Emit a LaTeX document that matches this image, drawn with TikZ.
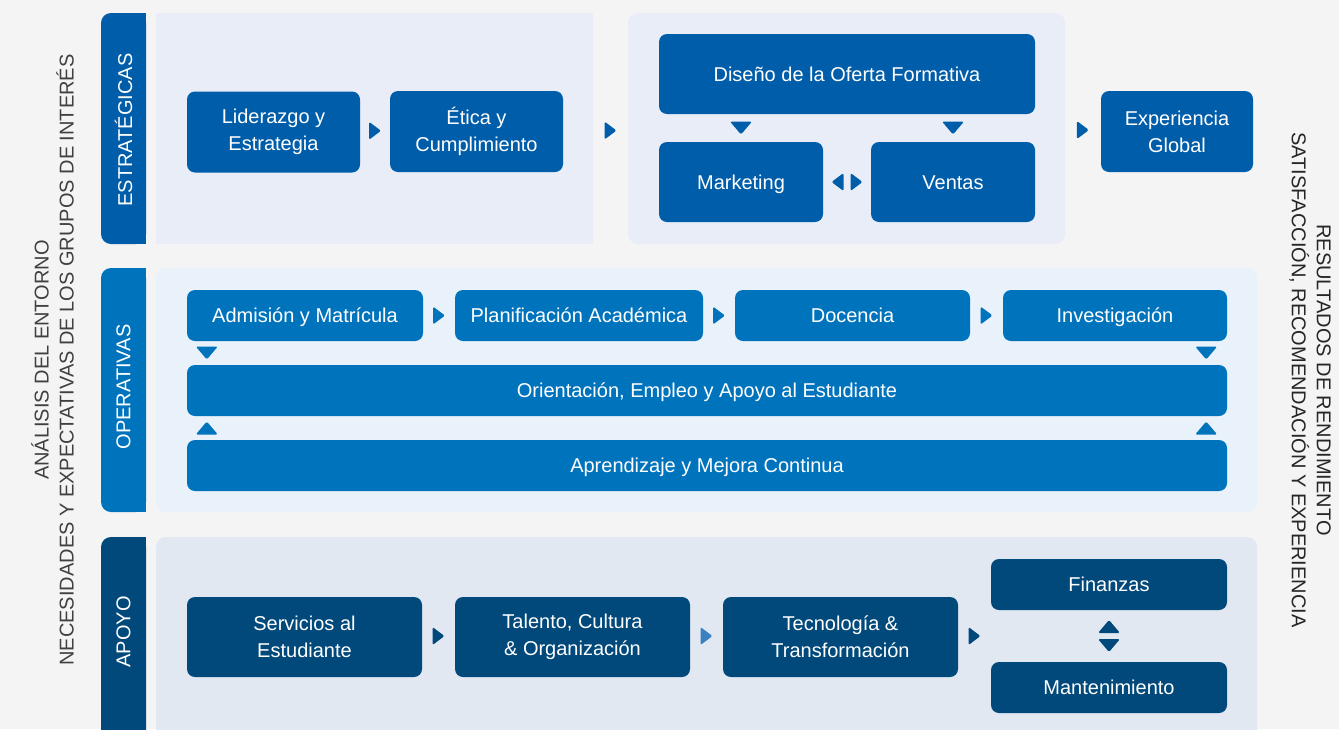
\documentclass[tikz,border=0pt]{standalone}
\usepackage{fontspec}
\setmainfont{Liberation Sans}
\usetikzlibrary{calc}

\definecolor{bgc}{HTML}{F4F4F4}
\definecolor{estc}{HTML}{005DA9}
\definecolor{opc}{HTML}{0073BD}
\definecolor{apc}{HTML}{00497A}
\definecolor{tecc}{HTML}{3C80C0}
\definecolor{estp}{HTML}{E8EDF7}
\definecolor{opp}{HTML}{E9F1FA}
\definecolor{app}{HTML}{E1E8F2}
\definecolor{lsidec}{HTML}{404040}
\definecolor{rsidec}{HTML}{262626}

\tikzset{
  box/.style={rounded corners=8pt, text=white, align=center, inner sep=0pt,
    font=\fontsize{20}{27}\selectfont},
  single/.style={text height=14.5pt, text depth=0pt},
  boxE/.style={box, fill=estc},
  boxO/.style={box, single, fill=opc, minimum height=51pt},
  boxA/.style={box, fill=apc},
  tabtxt/.style={text=white, rotate=90, font=\fontsize{20}{24}\selectfont},
  side/.style={align=center, font=\fontsize{20}{25}\selectfont}
}
% small triangles between boxes
\newcommand{\harr}[3]{\fill[#1, shift={#2}, rotate=#3, rounded corners=1.5pt] (-6,-9) -- (6,0) -- (-6,9) -- cycle;}
\newcommand{\varr}[3]{\fill[#1, shift={#2}, rotate=#3, rounded corners=1.5pt] (-6.5,-11) -- (6.5,0) -- (-6.5,11) -- cycle;}

\begin{document}
\begin{tikzpicture}[x=1pt, y=-1pt]
    \useasboundingbox (0,0) rectangle (1339,729);
    \fill[bgc] (0,0) rectangle (1339,729);
    \clip (0,0) rectangle (1339,729);

    % Panels and tabs
    \fill[estp] (156,13) rectangle (593,244);
    \fill[estp, rounded corners=10pt] (628,13) rectangle (1065,244);
    \fill[opp, rounded corners=10pt] (156,268) rectangle (1257,512);
    \fill[app, rounded corners=10pt] (156,537) rectangle (1257,760);
    \fill[estc, rounded corners=10pt] (101,13) rectangle (146,244); \fill[estc] (125,13) rectangle (146,244);
    \fill[opc, rounded corners=10pt] (101,268) rectangle (146,512); \fill[opc] (125,268) rectangle (146,512);
    \fill[apc, rounded corners=10pt] (101,537) rectangle (146,760); \fill[apc] (125,537) rectangle (146,760);
    \node[tabtxt] (tabE) at (123.5,130) {ESTRATÉGICAS};
    \node[tabtxt] (tabO) at (123.5,387) {OPERATIVAS};
    \node[tabtxt] (tabA) at (123.5,632) {APOYO};

    % Side texts
    \node[side, text=lsidec, rotate=90] (entorno) at (52.5,360) {ANÁLISIS DEL ENTORNO\\NECESIDADES Y EXPECTATIVAS DE LOS GRUPOS DE INTERÉS};
    \node[side, text=rsidec, rotate=-90] (result) at (1310,380) {RESULTADOS DE RENDIMIENTO\\SATISFACCIÓN, RECOMENDACIÓN Y EXPERIENCIA};

    % Estrategicas
    \node[boxE, minimum width=173pt, minimum height=81pt] (lid) at (273.5,132) {Liderazgo y\\Estrategia};
    \node[boxE, minimum width=173pt, minimum height=81pt] (eti) at (476.5,131.5) {Ética y\\Cumplimiento};
    \node[boxE, single, minimum width=376pt, minimum height=80pt] (dis) at (847,74) {Diseño de la Oferta Formativa};
    \node[boxE, single, minimum width=164pt, minimum height=80pt] (mkt) at (741,182) {Marketing};
    \node[boxE, single, minimum width=164pt, minimum height=80pt] (ven) at (953,182) {Ventas};
    \node[boxE, minimum width=152pt, minimum height=81pt] (exp) at (1177,131.5) {Experiencia\\Global};
    \coordinate (p1e) at (593,130.5); \coordinate (p2w) at (628,130.5); \coordinate (p2e) at (1065,130.5);
    \harr{estc}{($(p1e)!.5!(p2w)$)}{0}
    \harr{estc}{($(p2e)!.5!(exp.west)+(0,-1)$)}{0}
    \harr{estc}{($(lid.east)!.5!(eti.west)+(0,-1)$)}{0}
    \varr{estc}{($(mkt.north)!.5!(mkt.north |- dis.south)$)}{-90}
    \varr{estc}{($(ven.north)!.5!(ven.north |- dis.south)$)}{-90}
    \harr{estc}{($(mkt.east)!.5!(ven.west)+(-9.5,0)$)}{180}
    \harr{estc}{($(mkt.east)!.5!(ven.west)+(9.5,0)$)}{0}

    % Operativas
    \node[boxO, minimum width=236pt] (adm) at (305,315.5) {Admisión y Matrícula};
    \node[boxO, minimum width=248pt] (pla) at (579,315.5) {Planificación Académica};
    \node[boxO, minimum width=235pt] (doc) at (852.5,315.5) {Docencia};
    \node[boxO, minimum width=224pt] (inv) at (1115,315.5) {Investigación};
    \node[boxO, minimum width=1040pt] (ori) at (707,390.5) {Orientación, Empleo y Apoyo al Estudiante};
    \node[boxO, minimum width=1040pt] (apr) at (707,465.5) {Aprendizaje y Mejora Continua};
    \harr{opc}{($(adm.east)!.5!(pla.west)$)}{0}
    \harr{opc}{($(pla.east)!.5!(doc.west)$)}{0}
    \harr{opc}{($(doc.east)!.5!(inv.west)$)}{0}
    \varr{opc}{($([xshift=20pt]adm.south west)!.5!([xshift=20pt]ori.north west)$)}{-90}
    \varr{opc}{($([xshift=-21pt]inv.south east)!.5!([xshift=-21pt]ori.north east)$)}{-90}
    \varr{opc}{($([xshift=20pt]ori.south west)!.5!([xshift=20pt]apr.north west)$)}{90}
    \varr{opc}{($([xshift=-21pt]ori.south east)!.5!([xshift=-21pt]apr.north east)$)}{90}

    % Apoyo
    \node[boxA, minimum width=235pt, minimum height=80pt] (ser) at (304.5,637) {Servicios al\\Estudiante};
    \node[boxA, minimum width=235pt, minimum height=80pt] (tal) at (572.5,637) {Talento, Cultura\\\& Organización};
    \node[boxA, minimum width=235pt, minimum height=80pt] (tec) at (840.5,637) {Tecnología \&\\Transformación};
    \node[boxA, single, minimum width=236pt, minimum height=51pt] (fin) at (1109,584.5) {Finanzas};
    \node[boxA, single, minimum width=236pt, minimum height=51pt] (man) at (1109,687.5) {Mantenimiento};
    \harr{apc}{($(ser.east)!.5!(tal.west)+(0,-1)$)}{0}
    \harr{tecc}{($(tal.east)!.5!(tec.west)+(0,-1)$)}{0}
    \harr{apc}{($(tec.east)!.5!(tec.east -| fin.west)+(0,-1)$)}{0}
    \varr{apc}{($(fin.south)!.5!(man.north)+(0,-9.5)$)}{90}
    \varr{apc}{($(fin.south)!.5!(man.north)+(0,9.5)$)}{-90}
\end{tikzpicture}
\end{document}
